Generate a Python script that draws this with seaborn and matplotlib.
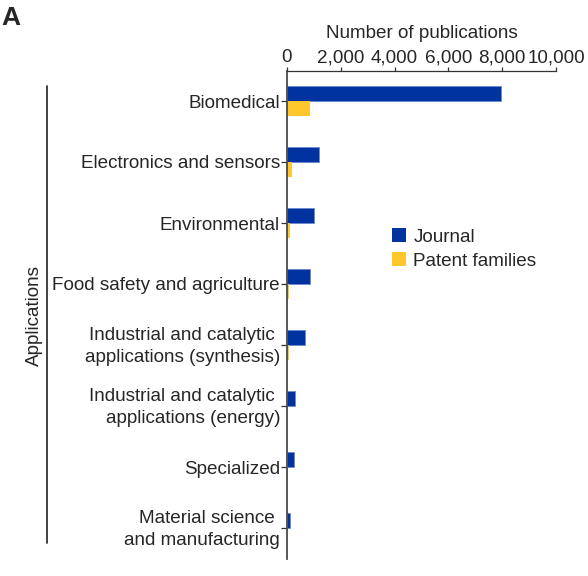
import matplotlib
matplotlib.use("Agg")
import matplotlib.pyplot as plt
import matplotlib.transforms as mtransforms
import seaborn as sns
import pandas as pd
from matplotlib.patches import Patch
from matplotlib.lines import Line2D
from matplotlib.ticker import FuncFormatter

categories = [
    "Biomedical",
    "Electronics and sensors",
    "Environmental",
    "Food safety and agriculture",
    "Industrial and catalytic \napplications (synthesis)",
    "Industrial and catalytic \napplications (energy)",
    "Specialized",
    "Material science \nand manufacturing",
]
journal = [7970, 1200, 990, 840, 680, 310, 245, 95]
patents = [840, 170, 100, 60, 70, 5, 20, 5]
series = ["Journal", "Patent families"]
colors = ["#0033A0", "#FFC72C"]

df = pd.DataFrame({
    "category": categories * 2,
    "value": journal + patents,
    "type": [series[0]] * len(categories) + [series[1]] * len(categories),
})

sns.set_style("white")
plt.rcParams["font.family"] = ["Liberation Sans", "DejaVu Sans"]
FS = 13.6

fig = plt.figure(figsize=(5.88, 5.76), dpi=100)
ax = fig.add_axes([287 / 588, 1 - 558.5 / 576, (556 - 287) / 588, (558.5 - 70.5) / 576])

sns.barplot(data=df, y="category", x="value", hue="type", order=categories,
            hue_order=series, palette=colors, width=0.5, orient="h",
            saturation=1, ax=ax, legend=False, linewidth=0.6, edgecolor="#6a8ad0")
for bar in ax.patches[len(categories):]:
    bar.set_edgecolor("none")

ax.set_xlim(0, 10000)
ax.set_ylim(len(categories) - 0.5, -0.5)
ax.xaxis.tick_top()
ax.xaxis.set_label_position("top")
ax.set_xticks([0, 2000, 4000, 6000, 8000, 10000])
ax.xaxis.set_major_formatter(FuncFormatter(lambda v, p: f"{int(v):,}"))
ax.set_xlabel("Number of publications", fontsize=FS, labelpad=8)
ax.set_ylabel("")
for s in ["right", "bottom"]:
    ax.spines[s].set_visible(False)
ax.spines["left"].set_color("#4a4a4a")
ax.spines["top"].set_color("#333333")
ax.spines["left"].set_linewidth(1.3)
ax.spines["top"].set_linewidth(0.9)
ax.tick_params(axis="x", which="major", direction="out", length=3, width=0.9,
               color="#333333", labelsize=FS, pad=0, top=True, bottom=False)
ax.tick_params(axis="y", which="major", direction="out", length=4, width=0.9,
               color="#333333", labelsize=FS, pad=1, left=True)
shift = mtransforms.ScaledTranslation(0, 3 / 100, fig.dpi_scale_trans)
for t in ax.get_yticklabels():
    t.set_horizontalalignment("right")
    t.set_multialignment("right")
    t.set_linespacing(1.4)
    if "\n" in t.get_text():
        t.set_verticalalignment("center_baseline")
        t.set_transform(t.get_transform() + shift)

fig.add_artist(Line2D([47 / 588, 47 / 588], [1 - 86 / 576, 1 - 543 / 576],
                      color="#333333", linewidth=1.3))
fig.text(34 / 588, 1 - 315 / 576, "Applications", rotation=90, ha="center",
         va="center", fontsize=FS)
fig.text(1 / 588, 1 - 18 / 576, "A", fontsize=19, fontweight="bold",
         ha="left", va="center")

handles = [Patch(facecolor=c, edgecolor="none") for c in colors]
fig.legend(handles, series, loc="center left",
           bbox_to_anchor=(384 / 588, 1 - 249 / 576), frameon=False,
           fontsize=FS, handlelength=0.75, handleheight=0.75,
           handletextpad=0.4, labelspacing=0.33, borderaxespad=0)

fig.savefig("out.png", dpi=100)
